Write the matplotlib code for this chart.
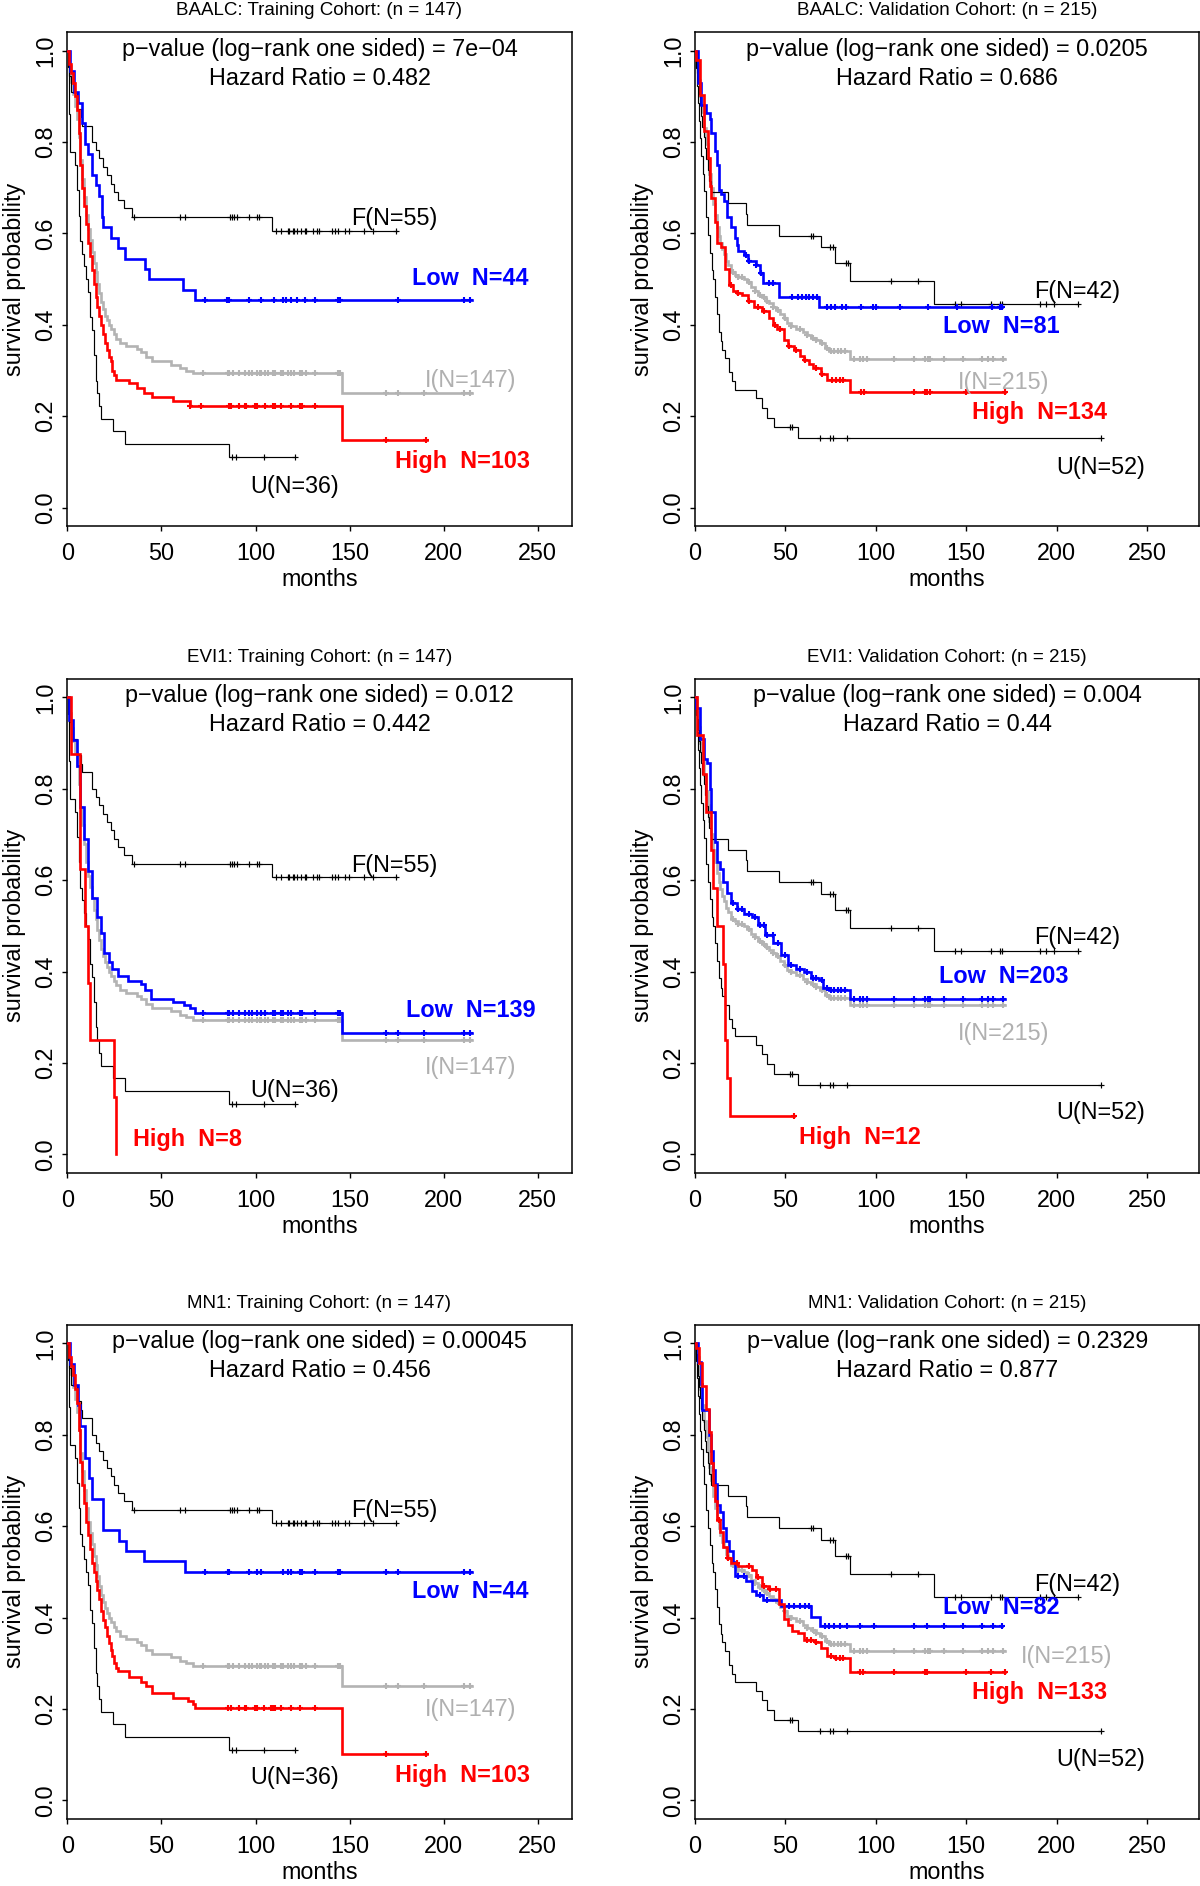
import numpy as np
import matplotlib
matplotlib.use("Agg")
import matplotlib.pyplot as plt

plt.rcParams['font.family'] = ['Liberation Sans', 'DejaVu Sans']

# ================= DATA =================
# ---- Training cohort, shared curves ----
TR_F_T = [0, 0.5, 1, 2, 5, 7.5, 8, 13, 15, 17, 19, 21, 23, 25, 27, 30, 34.5, 109]
TR_F_S = [1.0, 0.964, 0.945, 0.909, 0.873, 0.855, 0.836, 0.8, 0.782, 0.764, 0.745, 0.727, 0.709, 0.691,
          0.673, 0.655, 0.636, 0.606]
TR_F_END = 175
TR_F_CENS = [35.3, 59.7, 62.3, 86.5, 87.5, 88.7, 90.2, 96.7, 100.7, 101.7, 110.9, 113.5, 117, 118, 119.8,
             120.6, 122.3, 124.3, 126.1, 126.7, 130.4, 132.8, 133.8, 140.5, 142.1, 144, 147.6, 149.5,
             157.8, 162.3, 174.4]

TR_U_T = [0, 1, 1.5, 4, 5, 6, 7, 8, 9, 10, 11, 12, 13, 14, 15, 16, 17, 18, 24.5, 30.5, 86]
TR_U_S = [1.0, 0.861, 0.778, 0.75, 0.694, 0.639, 0.583, 0.556, 0.528, 0.5, 0.472, 0.417, 0.389, 0.333,
          0.278, 0.25, 0.222, 0.194, 0.167, 0.139, 0.111]
TR_U_END = 121
TR_U_CENS = [87.7, 89.5, 104.4, 121]

TR_I_T = [0, 1, 2, 3, 4, 5, 6, 7, 8, 9, 10, 11, 12, 13, 14, 15, 16, 17, 18, 19, 20, 21, 22, 23, 25, 26,
          28, 31, 37, 39, 42, 45, 55, 60, 63, 67, 146]
TR_I_S = [1.0, 0.966, 0.932, 0.905, 0.878, 0.85, 0.81, 0.76, 0.72, 0.68, 0.64, 0.61, 0.585, 0.56, 0.535,
          0.515, 0.49, 0.47, 0.45, 0.435, 0.42, 0.41, 0.40, 0.39, 0.38, 0.37, 0.36, 0.354, 0.347, 0.34,
          0.33, 0.32, 0.313, 0.306, 0.30, 0.294, 0.25]
TR_I_END = 215
TR_I_CENS = [72, 85.3, 86, 88, 91.2, 94.2, 96.3, 98.3, 100.8, 102.4, 103, 104.8, 106.4, 109.5, 110.5,
             113.5, 114.6, 117, 118.6, 120.6, 123.6, 124.6, 126.7, 131.4, 144, 145, 169.4, 175.5, 189.6,
             211, 214]

# ---- BAALC training ----
BA_TR_LOW_T = [0, 1.4, 3.5, 5.9, 7.9, 9.3, 11, 13, 15, 16.7, 18.7, 19.1, 23.2, 27.2, 30.9, 41.4, 43.5,
               61.7, 67.8]
BA_TR_LOW_S = [1.0, 0.955, 0.909, 0.886, 0.841, 0.795, 0.773, 0.727, 0.705, 0.682, 0.636, 0.614, 0.591,
               0.568, 0.545, 0.523, 0.5, 0.477, 0.455]
BA_TR_LOW_END = 215
BA_TR_LOW_CENS = [73.1, 84.7, 86.1, 96.7, 103, 109.7, 114.6, 116.2, 118.6, 122.3, 126.3, 131.4, 144, 145,
                  175.5, 211, 214]

BA_TR_HIGH_T = [0, 1, 2, 3, 4, 5, 6, 7, 8, 9, 10, 11, 12, 13, 14, 15, 16, 17, 18, 19, 20, 21, 22, 23,
                24, 25, 26, 33, 37, 41, 45, 56, 65, 146]
BA_TR_HIGH_S = [1.0, 0.97, 0.95, 0.93, 0.90, 0.87, 0.82, 0.75, 0.70, 0.66, 0.62, 0.58, 0.55, 0.52, 0.49,
                0.46, 0.44, 0.42, 0.40, 0.38, 0.36, 0.345, 0.33, 0.32, 0.30, 0.29, 0.28, 0.272, 0.262,
                0.252, 0.243, 0.233, 0.223, 0.149]
BA_TR_HIGH_END = 191
BA_TR_HIGH_CENS = [65.2, 70.9, 85.7, 87.1, 91.2, 94.2, 95.2, 99.9, 100.8, 104.8, 109.5, 110.5, 113.5,
                   118.6, 123.6, 124.6, 131.4, 169.4, 190.7]

# ---- EVI1 training ----
EV_TR_LOW_T = [0, 0.8, 2.8, 4.9, 7, 9, 11, 13, 16, 18, 19.5, 22, 24, 27, 32, 39, 41.4, 44.5, 56, 62,
               65, 68, 146]
EV_TR_LOW_S = [1.0, 0.95, 0.907, 0.85, 0.76, 0.69, 0.62, 0.56, 0.52, 0.484, 0.44, 0.42, 0.406, 0.39,
               0.38, 0.372, 0.359, 0.341, 0.333, 0.327, 0.32, 0.309, 0.265]
EV_TR_LOW_END = 215
EV_TR_LOW_CENS = [72, 85.3, 86, 88, 91.2, 94.2, 96.3, 98.3, 100.8, 103, 104.8, 109.5, 110.5, 113.5,
                  114.6, 117, 118.6, 123.6, 124.6, 131.4, 144, 145, 169.4, 175.5, 189.6, 211, 214]

EV_TR_HIGH_T = [0, 2, 6.5, 9.3, 11, 12.2, 24.8, 26]
EV_TR_HIGH_S = [1.0, 0.875, 0.625, 0.5, 0.375, 0.25, 0.125, 0.0]
EV_TR_HIGH_END = 26
EV_TR_HIGH_CENS = []

# ---- MN1 training ----
MN_TR_LOW_T = [0, 1.4, 3.5, 5.9, 6.9, 9.3, 11.4, 13, 19.1, 27.6, 31.3, 41, 62.8]
MN_TR_LOW_S = [1.0, 0.955, 0.909, 0.864, 0.818, 0.75, 0.705, 0.659, 0.591, 0.568, 0.545, 0.523, 0.5]
MN_TR_LOW_END = 215
MN_TR_LOW_CENS = [73.1, 85.5, 86.1, 96.7, 100.7, 103, 114.6, 117, 118.6, 123.6, 124.6, 131.4, 144, 145,
                  169.4, 175.5, 211, 214]

MN_TR_HIGH_T = [0, 1, 2, 3, 4, 5, 6, 7, 8, 9, 10, 11, 12, 13, 14, 15, 16, 17, 18, 19, 20, 21, 22, 23,
                24, 25, 26, 27, 33, 39, 42, 45, 56, 64, 67, 68, 146]
MN_TR_HIGH_S = [1.0, 0.97, 0.95, 0.93, 0.90, 0.87, 0.81, 0.74, 0.69, 0.65, 0.61, 0.58, 0.55, 0.52, 0.50,
                0.48, 0.46, 0.44, 0.415, 0.395, 0.38, 0.36, 0.345, 0.33, 0.315, 0.30, 0.29, 0.283,
                0.27, 0.26, 0.25, 0.236, 0.225, 0.218, 0.21, 0.203, 0.101]
MN_TR_HIGH_END = 191
MN_TR_HIGH_CENS = [85.5, 87.1, 91.2, 94.2, 95.2, 99.9, 100.8, 104.4, 108.4, 109.5, 110.5, 113.5, 118.6,
                   123.6, 131.4, 169.4, 190.7]

# ---- Validation cohort, shared curves ----
VA_F_T = [0, 0.5, 1, 1.5, 2, 3, 3.5, 4, 5, 5.5, 6, 7, 8, 9.1, 18.1, 28, 29, 46.3, 69.7, 77.6, 85.7, 132]
VA_F_S = [1.0, 0.976, 0.952, 0.929, 0.905, 0.881, 0.857, 0.833, 0.81, 0.786, 0.762, 0.738, 0.714, 0.69,
          0.667, 0.643, 0.619, 0.595, 0.57, 0.535, 0.496, 0.446]
VA_F_END = 211.7
VA_F_CENS = [64, 65, 74.4, 76.1, 83.5, 84.6, 108.4, 123.3, 144, 147, 164, 168.6, 169.6, 190.9, 194,
             198.3, 211.7]

VA_U_T = [0, 0.5, 1, 1.5, 2, 3, 3.5, 4.5, 5, 6, 7, 8.5, 9.5, 10.2, 11, 12, 13, 14.5, 15.1, 16.6, 18.7,
          20.4, 22.3, 33.6, 36.8, 40, 43.6, 57]
VA_U_S = [1.0, 0.962, 0.923, 0.885, 0.846, 0.808, 0.769, 0.731, 0.692, 0.635, 0.596, 0.558, 0.519, 0.5,
          0.462, 0.423, 0.385, 0.365, 0.346, 0.327, 0.297, 0.277, 0.258, 0.239, 0.219, 0.197, 0.177,
          0.152]
VA_U_END = 224.5
VA_U_CENS = [52.3, 53.8, 69, 74.4, 76.1, 84, 224.5]

VA_I_T = [0, 1, 2, 3, 4, 5, 6, 7, 8, 9, 10, 11, 12, 13, 14, 15, 16, 17, 18, 20, 22, 24, 27, 29, 31, 33,
          35, 37, 39, 41, 43, 45, 47, 49, 51, 53, 56, 60, 62, 64, 67, 69, 72, 74, 85.7]
VA_I_S = [1.0, 0.97, 0.935, 0.9, 0.865, 0.83, 0.795, 0.765, 0.73, 0.7, 0.665, 0.64, 0.615, 0.595, 0.58,
          0.565, 0.555, 0.54, 0.53, 0.515, 0.51, 0.505, 0.5, 0.493, 0.483, 0.475, 0.466, 0.46, 0.453,
          0.447, 0.44, 0.433, 0.424, 0.414, 0.404, 0.398, 0.392, 0.384, 0.378, 0.372, 0.366, 0.36,
          0.349, 0.342, 0.326]
VA_I_END = 171.3
VA_I_CENS = [21, 24, 26, 30, 33, 36, 38, 40, 43, 46, 50, 53, 58, 62, 65, 67, 70, 73, 75, 77, 79, 81, 83,
             88, 91, 93, 95, 110, 121, 127, 129, 130, 138, 148, 159, 162, 165, 170.5]

# ---- BAALC validation ----
BA_VA_LOW_T = [0, 1.7, 3.2, 6, 8.1, 9.1, 11.3, 12.3, 13.4, 14.5, 16, 17.6, 19.8, 21.9, 23, 24, 27.2,
               29.3, 33.6, 35.7, 37.8, 46.3, 68.7]
BA_VA_LOW_S = [1.0, 0.93, 0.88, 0.864, 0.85, 0.82, 0.78, 0.75, 0.695, 0.687, 0.67, 0.635, 0.613, 0.591,
               0.574, 0.561, 0.552, 0.54, 0.531, 0.513, 0.492, 0.461, 0.44]
BA_VA_LOW_END = 169.6
BA_VA_LOW_CENS = [28.3, 30, 33.6, 36.4, 41, 43.2, 53.8, 57, 59.1, 61.2, 63.3, 65.5, 67.6, 72.9, 75,
                  77.2, 81.4, 83.5, 92, 98.3, 100, 113.3, 128.8, 145.1, 164.3, 168.6, 169.6]

BA_VA_HIGH_T = [0, 0.6, 2.7, 4.9, 7, 8.1, 9.1, 11.3, 12.3, 14.5, 16.6, 18.7, 20.8, 23, 26.1, 29.3, 32.5,
                36.8, 41, 43.2, 45.3, 49.5, 51.7, 54.8, 58, 60.2, 63.3, 65.5, 69.7, 72.9, 85.7]
BA_VA_HIGH_S = [1.0, 0.98, 0.903, 0.825, 0.765, 0.704, 0.678, 0.626, 0.578, 0.57, 0.522, 0.487, 0.474,
                0.47, 0.466, 0.453, 0.44, 0.431, 0.414, 0.4, 0.392, 0.366, 0.353, 0.345, 0.332, 0.323,
                0.314, 0.306, 0.293, 0.28, 0.254]
BA_VA_HIGH_END = 171.3
BA_VA_HIGH_CENS = [20, 24, 30, 35, 38, 44, 47, 52, 56, 61, 67, 70.5, 76, 78, 80, 82, 92, 93.5, 121.4,
                   127, 128.5, 130, 150, 171.3]

# ---- EVI1 validation ----
EV_VA_LOW_T = [0, 0.6, 2.8, 4.9, 6.6, 8.1, 9.1, 11.3, 12.3, 13.8, 15.5, 17.6, 19.8, 23, 27.2, 31.5,
               34.7, 38.9, 43.2, 47.4, 51.7, 55.9, 60.2, 64.4, 68.7, 70.8, 74, 85.7]
EV_VA_LOW_S = [1.0, 0.977, 0.908, 0.864, 0.856, 0.8, 0.75, 0.683, 0.64, 0.624, 0.597, 0.571, 0.55,
               0.536, 0.527, 0.519, 0.501, 0.48, 0.462, 0.436, 0.415, 0.406, 0.398, 0.385, 0.381,
               0.363, 0.359, 0.34]
EV_VA_LOW_END = 171.3
EV_VA_LOW_CENS = [21, 24, 26, 30, 33, 36, 38, 40, 43, 46, 50, 53, 58, 62, 65, 67, 70, 73, 75, 77, 79,
                  81, 83, 88, 91, 93, 95, 110, 121, 127, 129, 130, 138, 148, 159, 162, 165, 170.5]

EV_VA_HIGH_T = [0, 1, 4.5, 6, 8.7, 10.2, 12.3, 15.5, 16.6, 17.6, 19.3]
EV_VA_HIGH_S = [1.0, 0.917, 0.833, 0.75, 0.667, 0.583, 0.5, 0.417, 0.25, 0.167, 0.083]
EV_VA_HIGH_END = 54.8
EV_VA_HIGH_CENS = [54.8]

# ---- MN1 validation ----
MN_VA_LOW_T = [0, 1.7, 3.2, 3.8, 7.7, 9.1, 10.2, 11.3, 12.3, 13.8, 15.5, 17.2, 18.7, 20.8, 22.3, 28.3,
               31.5, 33.6, 37.8, 47.4, 64, 69]
MN_VA_LOW_S = [1.0, 0.96, 0.91, 0.855, 0.8, 0.764, 0.722, 0.693, 0.647, 0.63, 0.597, 0.567, 0.546,
               0.521, 0.492, 0.479, 0.459, 0.45, 0.438, 0.425, 0.402, 0.382]
MN_VA_LOW_END = 169.6
MN_VA_LOW_CENS = [24, 27, 36, 40, 52, 55, 58, 61, 63, 72, 74, 77, 80, 84, 91, 99, 121, 128.5, 138, 148,
                  159, 165, 169.6]

MN_VA_HIGH_T = [0, 0.6, 2.3, 3.8, 6, 7.7, 9.1, 10.2, 11.3, 12.3, 13.8, 15.5, 17.6, 19.8, 24, 31.5, 33.6,
                36.8, 41, 46.3, 49.5, 51.7, 53.8, 57, 60.2, 66.5, 69.7, 72.9, 77.2, 85.7]
MN_VA_HIGH_S = [1.0, 0.99, 0.956, 0.906, 0.856, 0.806, 0.739, 0.689, 0.655, 0.613, 0.588, 0.555, 0.53,
                0.52, 0.513, 0.504, 0.488, 0.47, 0.463, 0.429, 0.396, 0.383, 0.37, 0.366, 0.35, 0.346,
                0.333, 0.316, 0.312, 0.281]
MN_VA_HIGH_END = 171.3
MN_VA_HIGH_CENS = [13, 18, 23, 30, 35, 38, 41.5, 45, 62, 64, 67, 75, 78, 80, 82, 91, 93, 110, 127, 128.5,
                   150, 164, 171.3]

# ---- text ----
TITLES = ["BAALC: Training Cohort: (n = 147)", "BAALC: Validation Cohort: (n = 215)",
          "EVI1: Training Cohort: (n = 147)", "EVI1: Validation Cohort: (n = 215)",
          "MN1: Training Cohort: (n = 147)", "MN1: Validation Cohort: (n = 215)"]
PVALUES = ["7e\u221204", "0.0205", "0.012", "0.004", "0.00045", "0.2329"]
HAZARD = ["0.482", "0.686", "0.442", "0.44", "0.456", "0.877"]
LOW_N = [44, 81, 139, 203, 44, 82]
HIGH_N = [103, 134, 8, 12, 103, 133]
X_TICKS = [0, 50, 100, 150, 200, 250]
Y_TICKS = [0.0, 0.2, 0.4, 0.6, 0.8, 1.0]

# ================= STYLE / LAYOUT =================
BLUE, RED, GREY, BLACK = '#0000FF', '#FF0000', '#B3B3B3', '#000000'
FS = 16.8

cohort = {
    'tr': dict(F=(TR_F_T, TR_F_S, TR_F_END, TR_F_CENS), U=(TR_U_T, TR_U_S, TR_U_END, TR_U_CENS),
               I=(TR_I_T, TR_I_S, TR_I_END, TR_I_CENS), xmax=268, nF=55, nU=36, nI=147),
    'va': dict(F=(VA_F_T, VA_F_S, VA_F_END, VA_F_CENS), U=(VA_U_T, VA_U_S, VA_U_END, VA_U_CENS),
               I=(VA_I_T, VA_I_S, VA_I_END, VA_I_CENS), xmax=279, nF=42, nU=52, nI=215),
}
low = [(BA_TR_LOW_T, BA_TR_LOW_S, BA_TR_LOW_END, BA_TR_LOW_CENS),
       (BA_VA_LOW_T, BA_VA_LOW_S, BA_VA_LOW_END, BA_VA_LOW_CENS),
       (EV_TR_LOW_T, EV_TR_LOW_S, EV_TR_LOW_END, EV_TR_LOW_CENS),
       (EV_VA_LOW_T, EV_VA_LOW_S, EV_VA_LOW_END, EV_VA_LOW_CENS),
       (MN_TR_LOW_T, MN_TR_LOW_S, MN_TR_LOW_END, MN_TR_LOW_CENS),
       (MN_VA_LOW_T, MN_VA_LOW_S, MN_VA_LOW_END, MN_VA_LOW_CENS)]
high = [(BA_TR_HIGH_T, BA_TR_HIGH_S, BA_TR_HIGH_END, BA_TR_HIGH_CENS),
        (BA_VA_HIGH_T, BA_VA_HIGH_S, BA_VA_HIGH_END, BA_VA_HIGH_CENS),
        (EV_TR_HIGH_T, EV_TR_HIGH_S, EV_TR_HIGH_END, EV_TR_HIGH_CENS),
        (EV_VA_HIGH_T, EV_VA_HIGH_S, EV_VA_HIGH_END, EV_VA_HIGH_CENS),
        (MN_TR_HIGH_T, MN_TR_HIGH_S, MN_TR_HIGH_END, MN_TR_HIGH_CENS),
        (MN_VA_HIGH_T, MN_VA_HIGH_S, MN_VA_HIGH_END, MN_VA_HIGH_CENS)]

# label positions (data coords): F, Low, I, High, U
label_pos = [
    [(173.6, 0.633), (214.3, 0.502), (214.3, 0.278), (210.2, 0.101), (120.6, 0.046)],
    [(211.5, 0.474), (169.2, 0.397), (170.7, 0.275), (190.7, 0.208), (224.3, 0.089)],
    [(173.6, 0.633), (214.3, 0.314), (214.3, 0.190), (64.0, 0.033), (120.6, 0.140)],
    [(211.5, 0.475), (170.9, 0.389), (170.7, 0.264), (91.4, 0.036), (224.3, 0.091)],
    [(173.6, 0.634), (214.3, 0.457), (214.3, 0.199), (210.2, 0.054), (120.6, 0.050)],
    [(211.5, 0.473), (169.6, 0.421), (205.8, 0.314), (190.7, 0.235), (224.3, 0.090)],
]

W, H = 1200, 1886
fig = plt.figure(figsize=(W / 100, H / 100), dpi=100)
col_left = [67.3, 695.0]
row_top = [32.3, 679.0, 1325.0]
box_w, box_h = 504.4, 493.7


def draw_km(ax, curve, color, lw, z):
    t, s, end, cens = curve
    tt = list(t) + [end]
    ss = list(s) + [s[-1]]
    ax.step(tt, ss, where='post', color=color, lw=lw, zorder=z, solid_joinstyle='miter')
    if len(cens):
        idx = np.searchsorted(np.asarray(t), np.asarray(cens), side='right') - 1
        cy = np.asarray(s)[idx]
        ax.plot(cens, cy, ls='none', marker='+', ms=5.0, mew=lw * 0.8 if lw > 1 else lw,
                color=color, zorder=z)


for i in range(6):
    r, c = divmod(i, 2)
    coh = cohort['tr' if c == 0 else 'va']
    left = col_left[c] / W
    bottom = 1 - (row_top[r] + box_h) / H
    ax = fig.add_axes([left, bottom, box_w / W, box_h / H])
    xmax = coh['xmax']
    ax.set_xlim(0, xmax)
    ax.set_ylim(-0.04, 1.04)

    draw_km(ax, coh['I'], GREY, 1.9, 2)
    draw_km(ax, coh['F'], BLACK, 0.85, 3)
    draw_km(ax, coh['U'], BLACK, 0.85, 3)
    draw_km(ax, low[i], BLUE, 1.9, 4)
    draw_km(ax, high[i], RED, 1.9, 5)

    ax.set_xticks(X_TICKS)
    ax.set_xticklabels([str(v) for v in X_TICKS])
    ax.set_yticks(Y_TICKS)
    ax.set_yticklabels([f"{v:.1f}" for v in Y_TICKS])
    ax.tick_params(axis='both', direction='out', length=3.6, width=1.0, labelsize=FS)
    ax.tick_params(axis='x', pad=8.0)
    ax.tick_params(axis='y', pad=3.7, labelrotation=90)
    for lab in ax.get_yticklabels():
        lab.set_va('center')
    for sp in ax.spines.values():
        sp.set_linewidth(1.1)

    ax.set_xlabel('months', fontsize=FS, va='center')
    ax.xaxis.set_label_coords(0.5, -54 / box_h)
    ax.set_ylabel('survival probability', fontsize=FS, va='center')
    ax.yaxis.set_label_coords(-53 / box_w, 0.5)

    ax.text(0.5, 1 + 22 / box_h, TITLES[i], transform=ax.transAxes, ha='center', va='center',
            fontsize=13.5)
    ax.text(xmax / 2, 1.003, f"p\u2212value (log\u2212rank one sided) = {PVALUES[i]}",
            ha='center', va='center', fontsize=FS)
    ax.text(xmax / 2, 0.94, f"Hazard Ratio = {HAZARD[i]}", ha='center', va='center', fontsize=FS)

    lp = label_pos[i]
    ax.text(*lp[0], f"F(N={coh['nF']})", ha='center', va='center', fontsize=FS, color=BLACK, zorder=6)
    ax.text(*lp[1], f"Low  N={LOW_N[i]}", ha='center', va='center', fontsize=FS, color=BLUE,
            fontweight='bold', zorder=6)
    ax.text(*lp[2], f"I(N={coh['nI']})", ha='center', va='center', fontsize=FS, color='#B0B0B0',
            zorder=6)
    ax.text(*lp[3], f"High  N={HIGH_N[i]}", ha='center', va='center', fontsize=FS, color=RED,
            fontweight='bold', zorder=6)
    ax.text(*lp[4], f"U(N={coh['nU']})", ha='center', va='center', fontsize=FS, color=BLACK, zorder=6)

fig.savefig('out.png', dpi=100)
